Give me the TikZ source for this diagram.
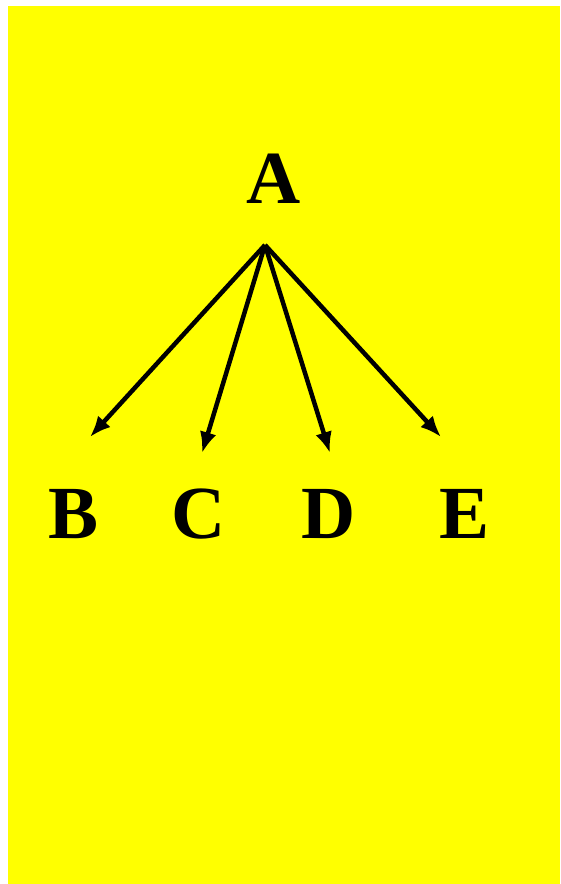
\documentclass[tikz,border=0pt]{standalone}
\usepackage{fontspec}
\setmainfont{Liberation Serif}
\usepackage{xcolor}
\usetikzlibrary{arrows.meta}

\definecolor{bgyellow}{RGB}{255,255,0}

\begin{document}
\begin{tikzpicture}[
    x=1pt, y=-1pt,
    >={Latex[length=21pt,width=17pt]},
    every node/.style={font=\fontsize{75}{75}\selectfont\bfseries,
        anchor=base, inner sep=0pt},
    branch/.style={->, line width=4.5pt}
]

\useasboundingbox (0,0) rectangle (560,884);

% Background
\fill[bgyellow] (8,6) rectangle (560,884);

% Root letter
\node (A) at (274,203) {A};

% Leaves
\node (B) at (74,538) {B};
\node (C) at (199,538) {C};
\node (D) at (329,538) {D};
\node (E) at (465,538) {E};

% Fork point and arrow tips
\coordinate (fork) at (265,245);
\coordinate (tipB) at (90,437);
\coordinate (tipC) at (202,453);
\coordinate (tipD) at (330,453);
\coordinate (tipE) at (441,437);

% Branches
\draw[branch] (fork) -- (tipB);
\draw[branch] (fork) -- (tipC);
\draw[branch] (fork) -- (tipD);
\draw[branch] (fork) -- (tipE);

\end{tikzpicture}
\end{document}
